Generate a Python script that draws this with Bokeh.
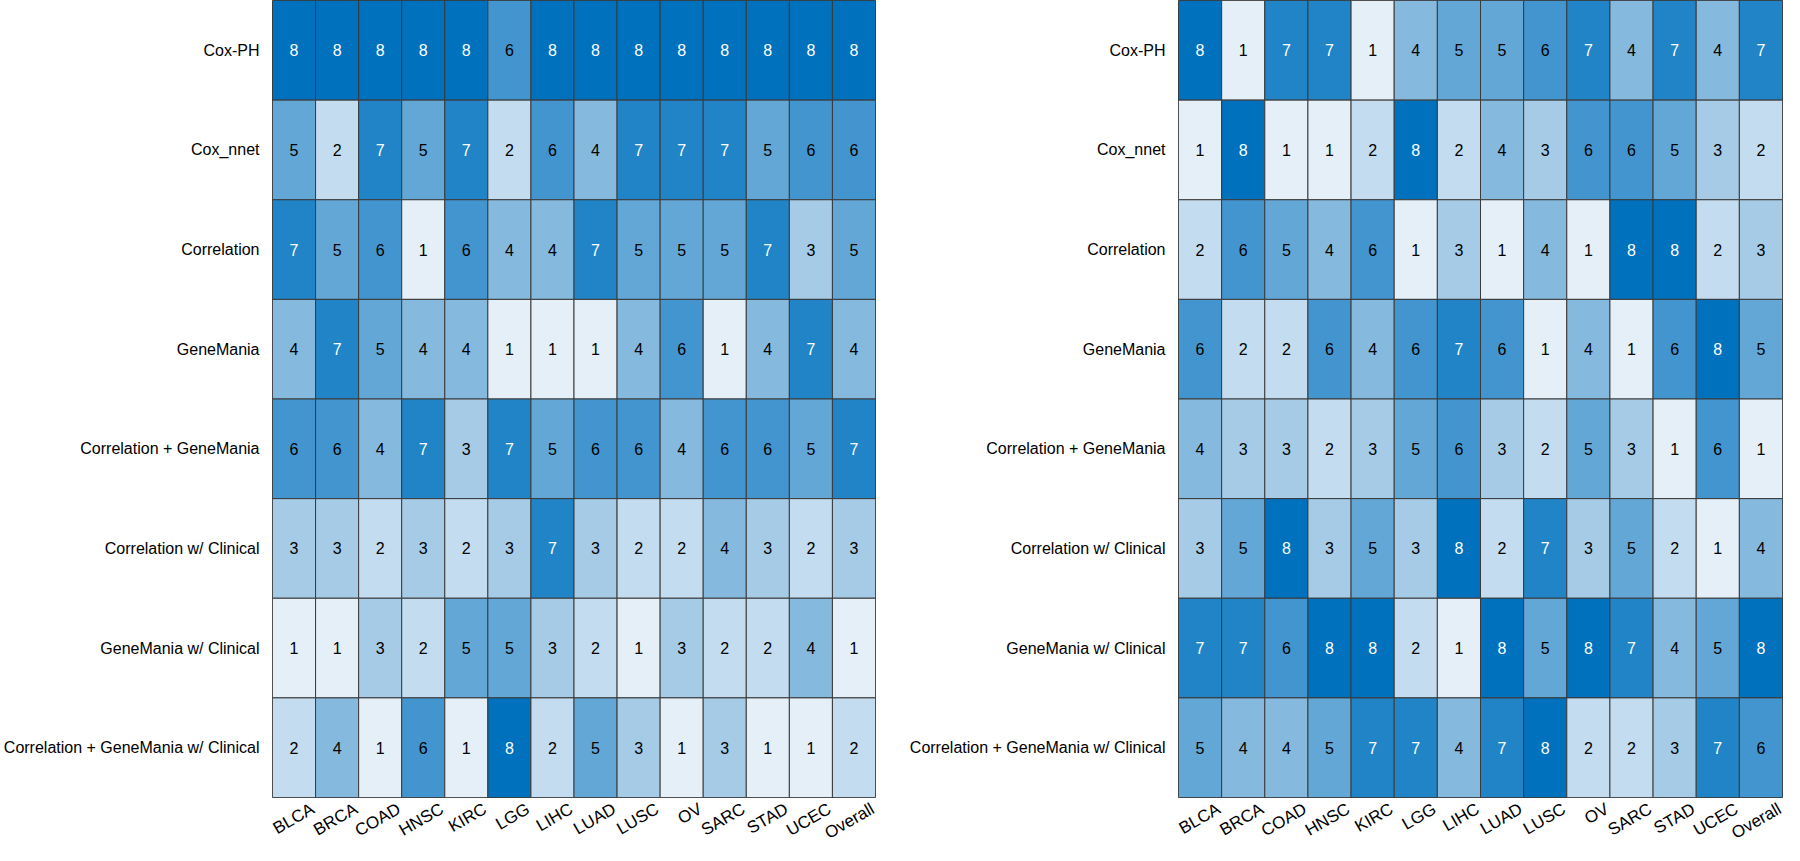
import math
from bokeh.plotting import figure
from bokeh.models import (ColumnDataSource, FactorRange, Range1d, LinearAxis,
                          FixedTicker)
from bokeh.layouts import row
from bokeh.transform import linear_cmap
from bokeh.core.properties import value
from bokeh.embed import file_html
from bokeh.resources import INLINE

cancers = ["BLCA", "BRCA", "COAD", "HNSC", "KIRC", "LGG", "LIHC", "LUAD",
           "LUSC", "OV", "SARC", "STAD", "UCEC", "Overall"]
methods = ["Cox-PH", "Cox_nnet", "Correlation", "GeneMania",
           "Correlation + GeneMania", "Correlation w/ Clinical",
           "GeneMania w/ Clinical", "Correlation + GeneMania w/ Clinical"]

left_cox_ph = [8, 8, 8, 8, 8, 6, 8, 8, 8, 8, 8, 8, 8, 8]
left_cox_nnet = [5, 2, 7, 5, 7, 2, 6, 4, 7, 7, 7, 5, 6, 6]
left_correlation = [7, 5, 6, 1, 6, 4, 4, 7, 5, 5, 5, 7, 3, 5]
left_genemania = [4, 7, 5, 4, 4, 1, 1, 1, 4, 6, 1, 4, 7, 4]
left_corr_gm = [6, 6, 4, 7, 3, 7, 5, 6, 6, 4, 6, 6, 5, 7]
left_corr_clin = [3, 3, 2, 3, 2, 3, 7, 3, 2, 2, 4, 3, 2, 3]
left_gm_clin = [1, 1, 3, 2, 5, 5, 3, 2, 1, 3, 2, 2, 4, 1]
left_corr_gm_clin = [2, 4, 1, 6, 1, 8, 2, 5, 3, 1, 3, 1, 1, 2]

right_cox_ph = [8, 1, 7, 7, 1, 4, 5, 5, 6, 7, 4, 7, 4, 7]
right_cox_nnet = [1, 8, 1, 1, 2, 8, 2, 4, 3, 6, 6, 5, 3, 2]
right_correlation = [2, 6, 5, 4, 6, 1, 3, 1, 4, 1, 8, 8, 2, 3]
right_genemania = [6, 2, 2, 6, 4, 6, 7, 6, 1, 4, 1, 6, 8, 5]
right_corr_gm = [4, 3, 3, 2, 3, 5, 6, 3, 2, 5, 3, 1, 6, 1]
right_corr_clin = [3, 5, 8, 3, 5, 3, 8, 2, 7, 3, 5, 2, 1, 4]
right_gm_clin = [7, 7, 6, 8, 8, 2, 1, 8, 5, 8, 7, 4, 5, 8]
right_corr_gm_clin = [5, 4, 4, 5, 7, 7, 4, 7, 8, 2, 2, 3, 7, 6]

left_rows = [left_cox_ph, left_cox_nnet, left_correlation, left_genemania,
             left_corr_gm, left_corr_clin, left_gm_clin, left_corr_gm_clin]
right_rows = [right_cox_ph, right_cox_nnet, right_correlation, right_genemania,
              right_corr_gm, right_corr_clin, right_gm_clin, right_corr_gm_clin]

palette = ["#E4EFF8", "#C4DCEF", "#A5CBE6", "#86B9DE",
           "#63A7D6", "#4395CF", "#2184C7", "#0071BD"]

FONT = "Liberation Sans"
LABEL_SHIFT = 0.4375  # tick labels sit slightly right of the column centre


def make_panel(rows, left_border, frame_w, right_border):
    xs, ys, vals, tcol = [], [], [], []
    for m, r in zip(methods, rows):
        for i, v in enumerate(r):
            xs.append(i + 0.5)
            ys.append(m)
            vals.append(v)
            tcol.append("white" if v >= 7 else "black")
    src = ColumnDataSource(dict(x=xs, y=ys, v=vals, t=[str(v) for v in vals], tc=tcol))
    top_b, bot_b = 0, 48
    p = figure(x_range=Range1d(0, len(cancers)), y_range=FactorRange(*reversed(methods)),
               width=left_border + frame_w + right_border, height=top_b + 805 + bot_b,
               min_border_left=left_border, min_border_right=right_border,
               min_border_top=top_b, min_border_bottom=bot_b,
               x_axis_location=None,
               output_backend="svg", toolbar_location=None, tools="")
    p.rect(x="x", y="y", width=1, height=1, source=src,
           fill_color=linear_cmap("v", palette, 0.5, 8.5),
           line_color="#3a3a3a", line_width=1)
    p.text(x="x", y="y", text="t", source=src, text_color="tc",
           text_align="center", text_baseline="middle",
           text_font=value(FONT), text_font_size="16px")
    p.grid.visible = False
    p.outline_line_color = "#3a3a3a"

    ticks = [i + 0.5 + LABEL_SHIFT for i in range(len(cancers))]
    xax = LinearAxis(ticker=FixedTicker(ticks=ticks),
                     major_label_overrides={t: c for t, c in zip(ticks, cancers)})
    p.add_layout(xax, "below")

    for ax in (xax, p.yaxis[0]):
        ax.axis_line_color = None
        ax.major_tick_line_color = None
        ax.minor_tick_line_color = None
        ax.major_label_text_font = FONT
        ax.major_label_text_font_size = "16px"
        ax.major_label_text_color = "black"
    xax.major_label_text_font_size = "17px"
    xax.major_label_orientation = math.pi / 6
    xax.major_label_standoff = 4
    p.yaxis.major_label_standoff = 7
    p.y_range.range_padding = 0
    return p


p1 = make_panel(left_rows, 265, 610, 25)
p2 = make_panel(right_rows, 278, 604, 2)
layout = row(p1, p2)

open("out.html", "w").write(file_html(layout, INLINE))
